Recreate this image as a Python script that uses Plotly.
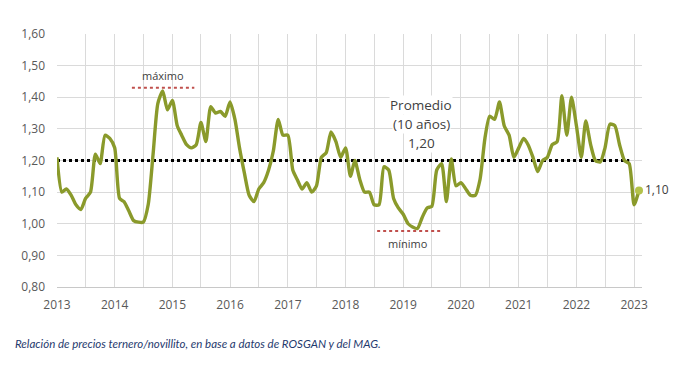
import plotly.graph_objects as go
import pandas as pd

months = pd.date_range("2013-01-01", "2023-02-01", freq="MS")

v2013 = [1.21, 1.10, 1.11, 1.09, 1.06, 1.045, 1.08, 1.10, 1.22, 1.19, 1.28, 1.27]
v2014 = [1.24, 1.08, 1.07, 1.04, 1.01, 1.005, 1.005, 1.06, 1.22, 1.38, 1.42, 1.36]
v2015 = [1.39, 1.31, 1.28, 1.25, 1.24, 1.25, 1.32, 1.26, 1.37, 1.35, 1.355, 1.34]
v2016 = [1.385, 1.33, 1.24, 1.16, 1.09, 1.07, 1.11, 1.13, 1.17, 1.23, 1.33, 1.28]
v2017 = [1.28, 1.17, 1.14, 1.11, 1.13, 1.10, 1.12, 1.21, 1.225, 1.29, 1.26, 1.21]
v2018 = [1.24, 1.15, 1.20, 1.14, 1.10, 1.10, 1.06, 1.06, 1.18, 1.17, 1.08, 1.05]
v2019 = [1.03, 1.00, 0.99, 0.985, 1.02, 1.05, 1.055, 1.17, 1.19, 1.07, 1.205, 1.12]
v2020 = [1.13, 1.11, 1.09, 1.09, 1.14, 1.27, 1.34, 1.33, 1.385, 1.31, 1.28, 1.21]
v2021 = [1.24, 1.27, 1.25, 1.21, 1.165, 1.20, 1.21, 1.25, 1.26, 1.405, 1.28, 1.40]
v2022 = [1.31, 1.21, 1.325, 1.25, 1.20, 1.195, 1.24, 1.315, 1.31, 1.25, 1.20, 1.19]
v2023 = [1.06, 1.105]

values = v2013 + v2014 + v2015 + v2016 + v2017 + v2018 + v2019 + v2020 + v2021 + v2022 + v2023

promedio = 1.20
maximo_level = 1.43
minimo_level = 0.977
ytick_vals = [0.80, 0.90, 1.00, 1.10, 1.20, 1.30, 1.40, 1.50, 1.60]
ytick_text = ["0,80", "0,90", "1,00", "1,10", "1,20", "1,30", "1,40", "1,50", "1,60"]
year_ticks = [f"{y}-01-01" for y in range(2013, 2024)]
year_text = [str(y) for y in range(2013, 2024)]
promedio_lines = ["Promedio", "(10 años)", "1,20"]
promedio_y = [1.376, 1.316, 1.256]

line_color = "#8a9a2b"
text_color = "#404040"
fig = go.Figure()

# average line (10 years)
fig.add_trace(go.Scatter(
    x=[months[0], pd.Timestamp("2022-12-01")], y=[promedio, promedio],
    mode="lines", line=dict(color="black", width=3, dash="dot"),
    hoverinfo="skip", showlegend=False))

# max / min markers
fig.add_trace(go.Scatter(
    x=[pd.Timestamp("2014-04-20"), pd.Timestamp("2015-05-20")], y=[maximo_level, maximo_level],
    mode="lines", line=dict(color="#c0504d", width=2, dash="dot"), showlegend=False))
fig.add_trace(go.Scatter(
    x=[pd.Timestamp("2018-07-20"), pd.Timestamp("2019-08-25")], y=[minimo_level, minimo_level],
    mode="lines", line=dict(color="#c0504d", width=2, dash="dot"), showlegend=False))

fig.add_trace(go.Scatter(
    x=months, y=values, mode="lines",
    line=dict(color=line_color, width=3.4, shape="spline", smoothing=0.6),
    showlegend=False))

fig.add_trace(go.Scatter(
    x=[months[-1]], y=[values[-1]], mode="markers+text",
    marker=dict(color="#b3c24a", size=8),
    text=["1,10"], textposition="middle right",
    textfont=dict(family="Open Sans", size=12, color=text_color),
    cliponaxis=False, showlegend=False))

fig.add_annotation(x=pd.Timestamp("2014-11-01"), y=1.468, text="máximo", showarrow=False,
                   font=dict(family="Open Sans", size=11, color=text_color))
fig.add_annotation(x=pd.Timestamp("2019-02-01"), y=0.938, text="mínimo", showarrow=False,
                   font=dict(family="Open Sans", size=11, color=text_color))
for txt, yy in zip(promedio_lines, promedio_y):
    fig.add_annotation(x=pd.Timestamp("2019-04-25"), y=yy, text=txt,
                       showarrow=False, bgcolor="white", borderpad=0,
                       font=dict(family="Open Sans", size=13.5, color=text_color))

fig.add_annotation(xref="paper", yref="paper", x=-0.075, y=-0.19, xanchor="left", yanchor="top",
                   text="<i>Relación de precios ternero/novillito, en base a datos de ROSGAN y del MAG.</i>",
                   showarrow=False,
                   font=dict(family="Lato", size=11.5, color="#1f3a6e"))

fig.update_layout(
    width=687, height=373,
    margin=dict(l=57, r=45, t=34, b=86),
    paper_bgcolor="white", plot_bgcolor="white",
    font=dict(family="Open Sans", size=12, color="#595959"),
    xaxis=dict(
        type="date", range=["2013-01-01", "2023-02-20"],
        tickvals=year_ticks, ticktext=year_text,
        showgrid=True, gridcolor="#dadada", gridwidth=1,
        minor=dict(dtick="M6", tick0="2013-01-01", showgrid=True, gridcolor="#dadada", gridwidth=1),
        showline=True, linecolor="#c8c8c8", ticks="", zeroline=False,
        ticklabelstandoff=7,
        tickfont=dict(size=12, color="#595959")),
    yaxis=dict(
        range=[0.80, 1.60], tickvals=ytick_vals, ticktext=ytick_text,
        showgrid=True, gridcolor="#dadada", gridwidth=1, zeroline=False,
        ticks="", ticklabelstandoff=11,
        tickfont=dict(size=12, color="#595959")),
)

fig.write_html("out.html", config={"displayModeBar": False},
               post_script="document.body.style.margin='0';document.body.style.overflow='hidden';")
